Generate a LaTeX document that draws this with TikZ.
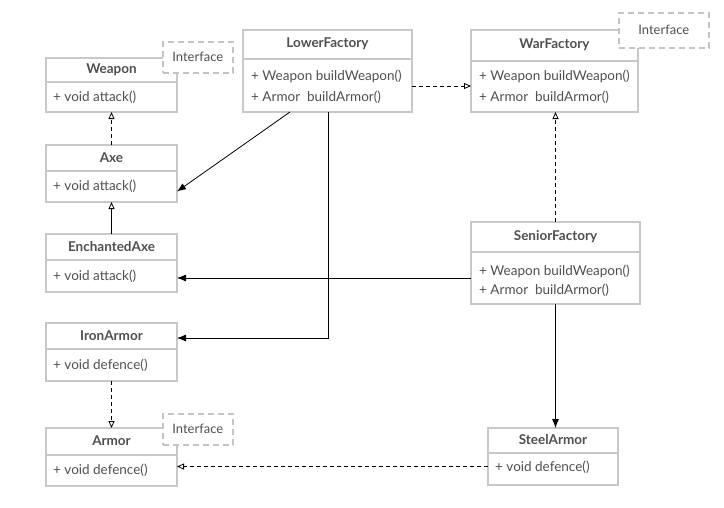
\documentclass[tikz,border=0pt]{standalone}
\usepackage{fontspec}
\setmainfont{Lato}
\usetikzlibrary{arrows.meta}
\definecolor{boxgray}{HTML}{C8C8C8}
\definecolor{dashgray}{HTML}{C4C4C4}
\definecolor{txt}{HTML}{505050}
\newcommand\umlbox[6]{%
  \node[clsbox, anchor=north west, minimum width={(#4-#2)*1pt}, minimum height={(#6-#3)*1pt}] (#1) at (#2,#3) {};
  \draw[clsline] (#2,#5) -- (#4,#5);
}
\begin{document}
\begin{tikzpicture}[x=1pt,y=-1pt,
  clsbox/.style={draw=boxgray, line width=1.6pt, fill=white, inner sep=0pt, outer sep=0pt},
  clsline/.style={draw=boxgray, line width=1.6pt},
  ttl/.style={text=txt, font=\fontsize{13.5}{16}\selectfont\bfseries, inner sep=0pt},
  row/.style={text=txt, font=\fontsize{13.5}{16}\selectfont, inner sep=0pt, anchor=west},
  iface/.style={draw=dashgray, line width=1.6pt, dash pattern=on 6pt off 4pt, fill=white, text=txt, font=\fontsize{13}{15}\selectfont, inner sep=0pt, anchor=north west},
  assoc/.style={draw=black, line width=0.8pt, -{Latex[length=9pt,width=7pt]}},
  dep/.style={draw=black, line width=0.8pt, dash pattern=on 4pt off 3pt, -{Triangle[open,length=7pt,width=6pt]}},
  gen/.style={draw=black, line width=0.8pt, -{Triangle[open,length=7pt,width=6pt]}}]
\useasboundingbox[fill=white] (0,0) rectangle (724,507);

% left column
\umlbox{Weapon}{46}{58}{177}{82}{112}
\node[ttl] (Weapon-t) at (111.5,70) {Weapon};
\node[row] (Weapon-r1) at (53,97) {+ void attack()};
\node[iface, minimum width=70pt, minimum height=31pt] (Weapon-i) at (162,41) {Interface};

\umlbox{Axe}{46}{145}{177}{171}{202}
\node[ttl] (Axe-t) at (111.5,158) {Axe};
\node[row] (Axe-r1) at (53,186) {+ void attack()};

\umlbox{EAxe}{46}{234}{177}{260}{292}
\node[ttl] (EAxe-t) at (111.5,247) {EnchantedAxe};
\node[row] (EAxe-r1) at (53,276) {+ void attack()};

\umlbox{Iron}{46}{323}{177}{349}{381}
\node[ttl] (Iron-t) at (111.5,336) {IronArmor};
\node[row] (Iron-r1) at (53,365) {+ void defence()};

\umlbox{Armor}{46}{428}{177}{455}{486}
\node[ttl] (Armor-t) at (111.5,441) {Armor};
\node[row] (Armor-r1) at (53,470) {+ void defence()};
\node[iface, minimum width=70pt, minimum height=31pt] (Armor-i) at (162,413) {Interface};

% factories
\umlbox{LF}{243}{30}{412}{59}{112}
\node[ttl] (LF-t) at (327.5,44) {LowerFactory};
\node[row] (LF-r1) at (251,76) {+ Weapon buildWeapon()};
\node[row] (LF-r2) at (251,97) {+ Armor~ buildArmor()};

\umlbox{WF}{471}{30}{638}{61}{112}
\node[ttl] (WF-t) at (554.5,45) {WarFactory};
\node[row] (WF-r1) at (479,76) {+ Weapon buildWeapon()};
\node[row] (WF-r2) at (479,97) {+ Armor~ buildArmor()};
\node[iface, minimum width=90pt, minimum height=35pt] (WF-i) at (618,12) {Interface};

\umlbox{SF}{471}{222}{640}{252}{304}
\node[ttl] (SF-t) at (555.5,237) {SeniorFactory};
\node[row] (SF-r1) at (479,271) {+ Weapon buildWeapon()};
\node[row] (SF-r2) at (479,290) {+ Armor~ buildArmor()};

\umlbox{SA}{488}{428}{618}{453}{485}
\node[ttl] (SA-t) at (553,440) {SteelArmor};
\node[row] (SA-r1) at (495,467) {+ void defence()};

% connectors
\draw[dep] (Axe.north) -- (Weapon.south);
\draw[gen] (EAxe.north) -- (Axe.south);
\draw[dep] (Iron.south) -- (Armor.north);
\draw[dep] ([yshift=-15pt]LF.east) -- ([yshift=-15pt]WF.west);
\draw[dep] (SF.north) -- (SF.north |- WF.south);
\draw[assoc] (SF.south) -- (SF.south |- SA.north);
\coordinate (sa-l) at ([yshift=-10pt]SA.west);
\draw[dep] (sa-l) -- (sa-l -| Armor.east);
\coordinate (sf-l) at ([yshift=-15pt]SF.west);
\draw[assoc] (sf-l) -- (sf-l -| EAxe.east);
\draw[assoc] ([xshift=47pt]LF.south west) -- ([yshift=-18pt]Axe.east);
\coordinate (lf-b) at ([xshift=85pt]LF.south west);
\draw[assoc] (lf-b) |- ([yshift=14pt]Iron.east);
\end{tikzpicture}
\end{document}
